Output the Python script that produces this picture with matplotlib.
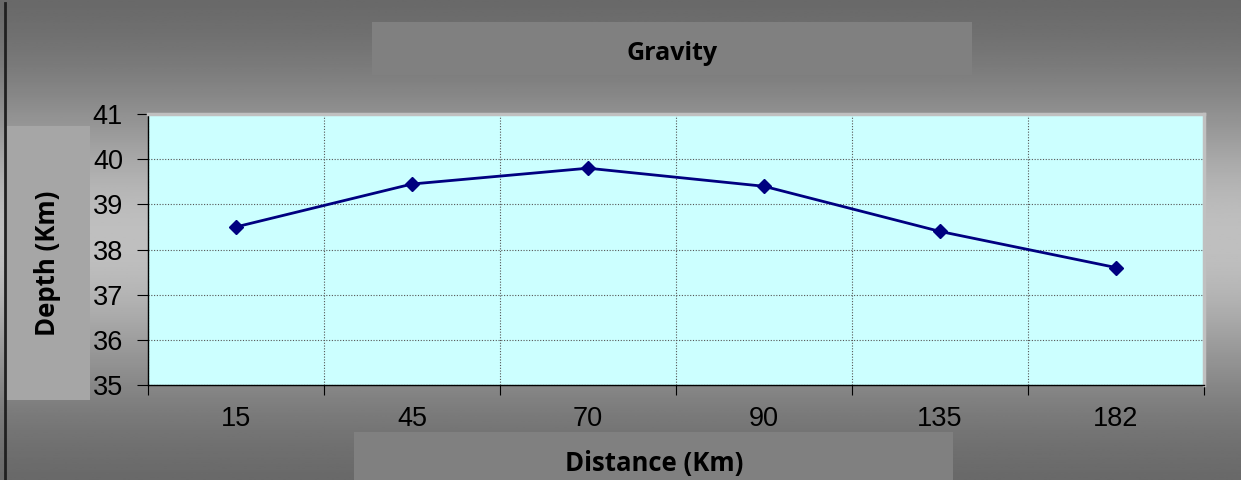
import numpy as np
import matplotlib
matplotlib.use("Agg")
import matplotlib.pyplot as plt
from matplotlib.patches import Rectangle

# data
distance_labels = ["15", "45", "70", "90", "135", "182"]
depth_km = [38.5, 39.45, 39.8, 39.4, 38.4, 37.6]
y_ticks = [35, 36, 37, 38, 39, 40, 41]

W, H = 1241, 480
fig = plt.figure(figsize=(W / 100, H / 100), dpi=100)

# gray vertical gradient background (dark - light - dark)
bg = fig.add_axes([0, 0, 1, 1], zorder=0)
t = np.linspace(0, 1, 256)
shade = 0.38 + 0.37 * np.exp(-((t - 0.5) / 0.32) ** 2)
grad = np.tile(shade[:, None], (1, 2))
bg.imshow(grad, cmap="gray", vmin=0, vmax=1, aspect="auto",
          extent=[0, 1, 0, 1], origin="upper")
bg.set_xlim(0, 1)
bg.set_ylim(0, 1)
bg.axis("off")


def box(x0, y0, x1, y1, color):
    # pixel coords (top-left origin) -> figure fraction
    bg.add_patch(Rectangle((x0 / W, 1 - y1 / H), (x1 - x0) / W, (y1 - y0) / H,
                           facecolor=color, edgecolor="none", zorder=2))


box(372, 22, 972, 75, "#808080")
box(6, 126, 90, 400, "#a6a6a6")
box(354, 432, 953, 480, "#808080")
bg.plot([5 / W, 5 / W], [0, 1 - 3 / H], color="#202020", lw=2, zorder=3)

bg.text(672 / W, 1 - 54 / H, "Gravity", ha="center", va="center",
        fontsize=18, fontweight="bold", family="Open Sans", zorder=4)
bg.text(48 / W, 1 - 263 / H, "Depth (Km)", ha="center", va="center",
        rotation=90, fontsize=18.5, fontweight="bold", family="Open Sans", zorder=4)
bg.text(654 / W, 1 - 464 / H, "Distance (Km)", ha="center", va="center",
        fontsize=18.5, fontweight="bold", family="Open Sans", zorder=4)

# plot area
x0, x1, y0, y1 = 148, 1204, 114, 385
ax = fig.add_axes([x0 / W, 1 - y1 / H, (x1 - x0) / W, (y1 - y0) / H], zorder=1)
ax.set_facecolor("#ccffff")

n = len(distance_labels)
xs = np.arange(n) + 0.5
ax.plot(xs, depth_km, color="#000080", lw=2, marker="D", markersize=7,
        markerfacecolor="#000080", markeredgecolor="#000080")

ax.set_xlim(0, n)
ax.set_ylim(min(y_ticks), max(y_ticks))
ax.set_yticks(y_ticks)
ax.set_xticks(np.arange(n + 1))
ax.set_xticklabels([])
ax.set_xticks(xs, minor=True)
ax.set_xticklabels(distance_labels, minor=True)
ax.tick_params(axis="x", which="minor", length=0, pad=15, labelsize=19.5)
ax.tick_params(axis="x", which="major", direction="out", length=7, color="black")
ax.tick_params(axis="y", direction="out", length=8, labelsize=19.5, pad=10)
for lab in ax.get_yticklabels() + ax.get_xticklabels(minor=True):
    lab.set_family("Liberation Sans")

ax.grid(True, which="major", color="#555555", linestyle=(0, (1, 1.5)), lw=0.8)
ax.set_axisbelow(True)

for side in ["top", "right"]:
    ax.spines[side].set_color("#c0c0c0")
    ax.spines[side].set_linewidth(2.5)
for side in ["left", "bottom"]:
    ax.spines[side].set_color("black")
    ax.spines[side].set_linewidth(1)

fig.savefig("out.png", dpi=100)
